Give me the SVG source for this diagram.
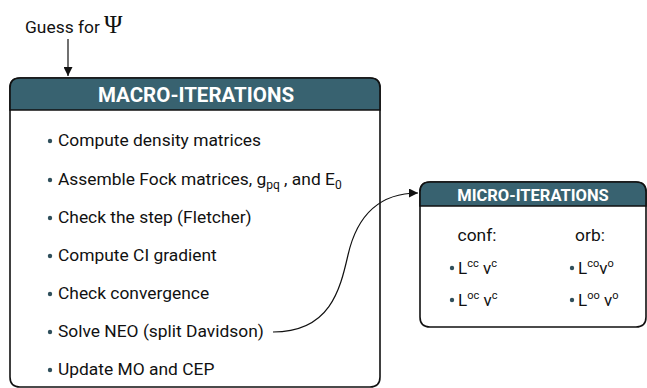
<svg xmlns="http://www.w3.org/2000/svg" width="647" height="388" viewBox="0 0 647 388">
  <style>
    .box { fill: #ffffff; stroke: #111111; stroke-width: 1.6; }
    .head { fill: #386270; stroke: #111111; stroke-width: 1.6; }
    .title { font-family: Roboto, "Liberation Sans", sans-serif; font-weight: bold; fill: #ffffff; text-anchor: middle; }
    .item { font-family: Roboto, "Liberation Sans", sans-serif; font-size: 17.4px; fill: #111111; }
    .small { font-family: Roboto, "Liberation Sans", sans-serif; font-size: 17px; fill: #111111; }
    .dot { fill: #2f4f5c; }
    .wire { fill: none; stroke: #111111; stroke-width: 1.2; }
  </style>
  <defs>
    <marker id="arrow" viewBox="0 0 10 10" refX="10" refY="5" markerWidth="9" markerHeight="9" markerUnits="userSpaceOnUse" orient="auto">
      <path d="M0,0 L10,5 L0,10 Z" fill="#111111"/>
    </marker>
  </defs>

  <!-- initial guess label -->
  <g id="guess">
    <text x="25" y="33" class="item" font-size="16.5">Guess for <tspan font-family="'Liberation Serif', 'DejaVu Serif', serif" font-size="25">Ψ</tspan></text>
  </g>

  <!-- macro-iterations panel -->
  <g id="macro">
    <path class="box" d="M10,88 Q10,78 20,78 L370,78 Q380,78 380,88 L380,377 Q380,387 370,387 L20,387 Q10,387 10,377 Z"/>
    <path class="head" d="M10,110 L10,88 Q10,78 20,78 L370,78 Q380,78 380,88 L380,110 Z"/>
    <text x="196" y="101.5" class="title" font-size="20.5">MACRO-ITERATIONS</text>
    <g>
      <circle class="dot" cx="50" cy="141" r="2.2"/>
      <text x="58" y="146" class="item">Compute density matrices</text>
      <circle class="dot" cx="50" cy="180" r="2.2"/>
      <text x="58" y="185" class="item">Assemble Fock matrices, g<tspan font-size="12" dy="4">pq</tspan><tspan dy="-4"> , and E</tspan><tspan font-size="12" dy="4">0</tspan></text>
      <circle class="dot" cx="50" cy="218" r="2.2"/>
      <text x="58" y="223" class="item">Check the step (Fletcher)</text>
      <circle class="dot" cx="50" cy="256" r="2.2"/>
      <text x="58" y="261" class="item">Compute CI gradient</text>
      <circle class="dot" cx="50" cy="294" r="2.2"/>
      <text x="58" y="299" class="item">Check convergence</text>
      <circle class="dot" cx="50" cy="332" r="2.2"/>
      <text x="58" y="337" class="item">Solve NEO (split Davidson)</text>
      <circle class="dot" cx="50" cy="370" r="2.2"/>
      <text x="58" y="375" class="item">Update MO and CEP</text>
    </g>
  </g>

  <!-- micro-iterations panel -->
  <g id="micro">
    <path class="box" d="M420,192 Q420,182 430,182 L636,182 Q646,182 646,192 L646,317 Q646,327 636,327 L430,327 Q420,327 420,317 Z"/>
    <path class="head" d="M420,206 L420,192 Q420,182 430,182 L636,182 Q646,182 646,192 L646,206 Z"/>
    <text x="533" y="200.5" class="title" font-size="16.5">MICRO-ITERATIONS</text>
    <text x="477" y="241" class="item" font-size="18" text-anchor="middle">conf:</text>
    <text x="590" y="241" class="item" font-size="18" text-anchor="middle">orb:</text>
    <circle class="dot" cx="452" cy="268" r="2.2"/>
    <text x="458" y="274" class="small">L<tspan font-size="11" dy="-7">cc</tspan><tspan dy="7"> v</tspan><tspan font-size="11" dy="-7">c</tspan></text>
    <circle class="dot" cx="452" cy="300" r="2.2"/>
    <text x="458" y="306" class="small">L<tspan font-size="11" dy="-7">oc</tspan><tspan dy="7"> v</tspan><tspan font-size="11" dy="-7">c</tspan></text>
    <circle class="dot" cx="572" cy="268" r="2.2"/>
    <text x="578" y="274" class="small">L<tspan font-size="11" dy="-7">co</tspan><tspan dy="7">v</tspan><tspan font-size="11" dy="-7">o</tspan></text>
    <circle class="dot" cx="572" cy="300" r="2.2"/>
    <text x="578" y="306" class="small">L<tspan font-size="11" dy="-7">oo</tspan><tspan dy="7"> v</tspan><tspan font-size="11" dy="-7">o</tspan></text>
  </g>

  <!-- connectors -->
  <g id="connectors">
    <line class="wire" x1="68" y1="39" x2="68" y2="76" marker-end="url(#arrow)"/>
    <path class="wire" d="M273,332 C330,332 340,290 348,255 C356,220 375,193 418,193" marker-end="url(#arrow)"/>
  </g>
</svg>
